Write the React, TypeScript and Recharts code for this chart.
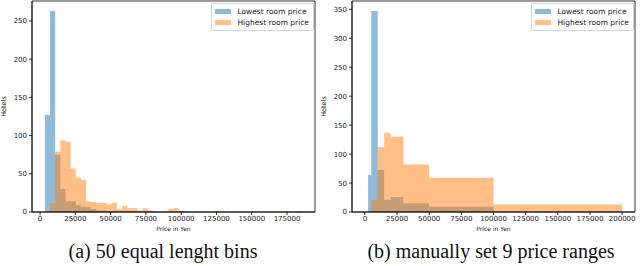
import { ComposedChart, Area, XAxis, YAxis, Legend, Label, ReferenceArea } from "recharts"

const seriesNames = ["Lowest room price", "Highest room price"]
const seriesColors = ["#1f77b4", "#ff7f0e"]

// (a) 50 equal length bins between cheapest and most expensive price
const rangeA = [3400, 185700]
const binCountA = 50
const lowestA = [
  127, 263, 75, 30, 14, 14, 9, 7, 7, 4,
  2, 2, 1, 1, 1, 1, 1, 1, 0, 0,
  1, 0, 0, 0, 0, 0, 1, 0, 0, 0,
  0, 0, 0, 0, 0, 0, 0, 0, 0, 0,
  0, 0, 0, 0, 0, 0, 0, 0, 0, 0,
]
const highestA = [
  0, 11, 79, 94, 92, 57, 45, 42, 14, 13,
  12, 12, 10, 12, 4, 8, 5, 5, 2, 5,
  2, 1, 0, 1, 4, 5, 1, 1, 0, 0,
  0, 0, 0, 1, 0, 0, 0, 0, 0, 0,
  0, 0, 0, 0, 0, 0, 0, 0, 0, 1,
]
const xTicksA = [0, 25000, 50000, 75000, 100000, 125000, 150000, 175000]
const yTicksA = [0, 50, 100, 150, 200, 250]

// (b) 9 manually chosen price ranges
const edgesB = [0, 2500, 5000, 10000, 15000, 20000, 30000, 50000, 100000, 200000]
const lowestB = [0, 64, 347, 73, 21, 26, 15, 9, 0]
const highestB = [0, 0, 21, 112, 137, 130, 82, 59, 13]
const xTicksB = [0, 25000, 50000, 75000, 100000, 125000, 150000, 175000, 200000]
const yTicksB = [0, 50, 100, 150, 200, 250, 300, 350]

const edgesA = Array.from(
  { length: binCountA + 1 },
  (_, i) => rangeA[0] + (i * (rangeA[1] - rangeA[0])) / binCountA
)

// one row per bin edge, the closing edge drops back to zero
function histRows(edges: number[], low: number[], high: number[]) {
  return edges.map((x, i) => ({
    x,
    low: i < low.length ? low[i] : 0,
    high: i < high.length ? high[i] : 0,
  }))
}

// matplotlib style 5% margins around the data
function padded(min: number, max: number): [number, number] {
  const m = (max - min) * 0.05
  return [min - m, max + m]
}

const font = "'DejaVu Sans', sans-serif"
const tickStyle = { fontSize: 7, fill: "#222", fontFamily: font }

function HistLegend() {
  return (
    <div
      style={{
        border: "1px solid #d6d6d6",
        borderRadius: 2,
        background: "rgba(255,255,255,0.8)",
        padding: "2px 4px 2px 3px",
        fontFamily: font,
        fontSize: 7.5,
        color: "#222",
        lineHeight: "11px",
      }}
    >
      {seriesNames.map((name, i) => (
        <div key={name} style={{ display: "flex", alignItems: "center" }}>
          <span
            style={{
              display: "inline-block",
              width: 16,
              height: 5,
              marginRight: 6,
              background: seriesColors[i],
              opacity: 0.5,
            }}
          />
          {name}
        </div>
      ))}
    </div>
  )
}

function HistPanel({ data, xDomain, xTicks, yMax, yTicks }: any) {
  const yDomain = [0, yMax * 1.05]
  return (
    <ComposedChart width={320} height={266} data={data} margin={{ top: 1, right: 5, bottom: 0, left: 6 }}>
      <XAxis
        dataKey="x"
        type="number"
        domain={xDomain}
        ticks={xTicks}
        interval={0}
        allowDataOverflow
        height={54}
        tickSize={3}
        tickMargin={1}
        tick={tickStyle}
        axisLine={{ stroke: "#000", strokeWidth: 0.8 }}
        tickLine={{ stroke: "#000", strokeWidth: 0.8 }}
      >
        <Label value="Price in Yen" position="insideTop" offset={15} style={{ fontSize: 6, fill: "#222", fontFamily: font }} />
      </XAxis>
      <YAxis
        type="number"
        domain={yDomain}
        ticks={yTicks}
        interval={0}
        allowDataOverflow
        width={26}
        tickSize={3}
        tickMargin={2}
        tick={tickStyle}
        axisLine={{ stroke: "#000", strokeWidth: 0.8 }}
        tickLine={{ stroke: "#000", strokeWidth: 0.8 }}
      >
        <Label
          value="Hotels"
          angle={-90}
          position="insideLeft"
          offset={-2}
          style={{ fontSize: 6.5, fill: "#222", fontFamily: font, textAnchor: "middle" }}
        />
      </YAxis>
      <Area
        dataKey="low"
        name={seriesNames[0]}
        type="stepAfter"
        fill={seriesColors[0]}
        fillOpacity={0.5}
        stroke="none"
        isAnimationActive={false}
      />
      <Area
        dataKey="high"
        name={seriesNames[1]}
        type="stepAfter"
        fill={seriesColors[1]}
        fillOpacity={0.5}
        stroke="none"
        isAnimationActive={false}
      />
      {/* axes frame, like matplotlib's four spines */}
      <ReferenceArea
        x1={xDomain[0]}
        x2={xDomain[1]}
        y1={yDomain[0]}
        y2={yDomain[1]}
        fill="none"
        stroke="#000"
        strokeWidth={0.8}
        ifOverflow="visible"
      />
      <Legend
        layout="vertical"
        align="center"
        verticalAlign="middle"
        content={() => <HistLegend />}
        wrapperStyle={{ top: 3, left: "auto", right: 6, width: "auto", bottom: "auto" }}
      />
    </ComposedChart>
  )
}

const captionStyle: any = {
  position: "absolute",
  top: 240,
  width: 400,
  textAlign: "center",
  fontFamily: "'Liberation Serif', serif",
  fontSize: 20,
  color: "#111",
  whiteSpace: "nowrap",
}

export default function App() {
  const dataA = histRows(edgesA, lowestA, highestA)
  const dataB = histRows(edgesB, lowestB, highestB)
  return (
    <div style={{ position: "relative", width: 640, height: 266, background: "#fff", overflow: "hidden" }}>
      <style>{`body { margin: 0; }`}</style>
      <div style={{ position: "absolute", left: 0, top: 0 }}>
        <HistPanel
          data={dataA}
          xDomain={padded(rangeA[0], rangeA[1])}
          xTicks={xTicksA}
          yMax={Math.max(...lowestA, ...highestA)}
          yTicks={yTicksA}
        />
      </div>
      <div style={{ position: "absolute", left: 320, top: 0 }}>
        <HistPanel
          data={dataB}
          xDomain={padded(edgesB[0], edgesB[edgesB.length - 1])}
          xTicks={xTicksB}
          yMax={Math.max(...lowestB, ...highestB)}
          yTicks={yTicksB}
        />
      </div>
      <div style={{ ...captionStyle, left: 163 - 200 }}>(a) 50 equal lenght bins</div>
      <div style={{ ...captionStyle, left: 491 - 200 }}>(b) manually set 9 price ranges</div>
    </div>
  )
}
